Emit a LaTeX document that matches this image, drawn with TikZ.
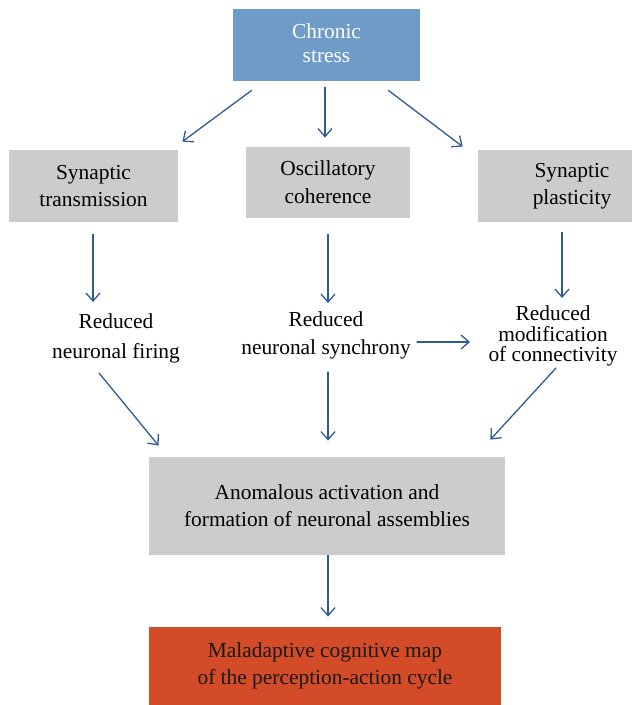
\documentclass[tikz,border=0pt]{standalone}
\usepackage{fontspec}
\setmainfont{Liberation Serif}
\usetikzlibrary{arrows.meta}
\definecolor{stressblue}{HTML}{6F9BC9}
\definecolor{boxgray}{HTML}{CCCCCC}
\definecolor{mapred}{HTML}{D44B27}
\definecolor{arrowblue}{HTML}{2F5B94}
\newcommand{\txtfont}{\fontsize{10.7}{13.5}\selectfont}

\begin{document}
\begin{tikzpicture}[x=0.5pt, y=-0.5pt, line cap=round, line join=round,
  >={Straight Barb[length=4pt,width=7pt]},
  box/.style={fill=boxgray, align=center, inner sep=0pt, font=\txtfont},
  txt/.style={align=center, inner sep=0pt, font=\txtfont},
  arr/.style={->, draw=arrowblue, line width=0.65pt}]

\useasboundingbox (0,0) rectangle (637,705);

% top
\node[box, fill=stressblue, minimum width=93.5pt, minimum height=36pt,
  label={[txt, text=white, yshift=1pt, font=\fontsize{10.7}{12}\selectfont]center:{Chronic\\stress}}]
  (cs) at (326.5,45) {};

% second row
\node[box, minimum width=84.5pt, minimum height=36pt] (st) at (93.5,186) {Synaptic\\transmission};
\node[box, minimum width=82pt, minimum height=35.5pt,
  font=\fontsize{10.7}{14}\selectfont] (oc) at (328,182.5) {Oscillatory\\coherence};
\node[box, minimum width=77pt, minimum height=36pt,
  label={[txt, xshift=8.5pt]center:{Synaptic\\plasticity}}] (sp) at (555,186) {};

% effects
\node[txt, font=\fontsize{10.7}{15}\selectfont] (rf) at (116,338) {Reduced\\neuronal firing};
\node[txt, font=\fontsize{10.7}{14}\selectfont] (rs) at (326,335) {Reduced\\neuronal synchrony};
\node[txt, font=\fontsize{10.7}{10.2}\selectfont] (rm) at (553,336) {Reduced\\modification\\of connectivity};

% bottom
\node[box, minimum width=178pt, minimum height=49pt] (an) at (327,506)
  {Anomalous activation and\\formation of neuronal assemblies};
\node[box, fill=mapred, text=black!90, minimum width=176pt, minimum height=39pt] (mm) at (325,666)
  {Maladaptive cognitive map\\of the perception-action cycle};

\draw[arr] ([shift={(19,9)}]cs.south west) -- ([shift={(4,-8)}]st.north east);
\draw[arr] ([shift={(-1.5,6)}]cs.south) -- ([shift={(-3,-9)}]oc.north);
\draw[arr] ([shift={(-32,9)}]cs.south east) -- ([shift={(-15,-3)}]sp.north west);

\draw[arr] ([shift={(-0.5,12)}]st.south) -- ([shift={(-23,-36)}]rf.center);
\draw[arr] ([shift={(0,16)}]oc.south) -- ([shift={(2,-32)}]rs.center);
\draw[arr] ([shift={(7,10)}]sp.south) -- ([shift={(9,-38)}]rm.center);
\draw[arr] ([shift={(91,7)}]rs.center) -- ([shift={(-83,6)}]rm.center);

\draw[arr] ([shift={(-17,35)}]rf.center) -- ([shift={(10,-11)}]an.north west);
\draw[arr] ([shift={(2,37)}]rs.center) -- ([shift={(1,-16)}]an.north);
\draw[arr] ([shift={(3,32)}]rm.center) -- ([shift={(-15,-17)}]an.north east);

\draw[arr] ([shift={(1,0)}]an.south) -- ([shift={(3,-10)}]mm.north);

\end{tikzpicture}
\end{document}
